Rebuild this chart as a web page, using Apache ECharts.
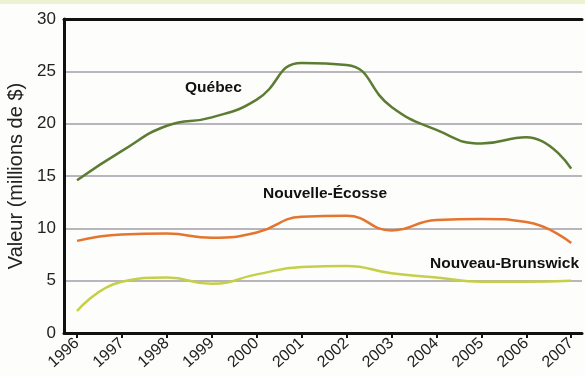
<!DOCTYPE html>
<html><head><meta charset="utf-8">
<script src="https://cdn.jsdelivr.net/npm/echarts@6/dist/echarts.min.js"></script>
<style>html,body{margin:0;padding:0;background:#fdfdfb}#c{width:585px;height:376px}</style>
</head><body><div id="c"></div>
<script>
const years = [1996,1997,1998,1999,2000,2001,2002,2003,2004,2005,2006,2007];
const quebec = [14.6,17.4,19.8,20.6,22.3,25.8,25.6,21.6,19.4,18.1,18.7,15.7];
const nouvelleEcosse = [8.8,9.4,9.5,9.1,9.6,11.1,11.2,9.8,10.8,10.9,10.6,8.6];
const nouveauBrunswick = [2.1,4.9,5.3,4.7,5.6,6.3,6.4,5.7,5.3,4.9,4.9,5.0];
const yTicks = [0,5,10,15,20,25,30];
const seriesNames = ['Québec','Nouvelle-Écosse','Nouveau-Brunswick'];

const pair = arr => years.map((y,i)=>[y,arr[i]]);
const chart = echarts.init(document.getElementById('c'));
const font = 'Liberation Sans, Arial, sans-serif';
chart.setOption({
  backgroundColor:'#fdfdfb',
  animation:false,
  grid:{left:64,top:19,right:3,bottom:43,outerBoundsMode:'none',containLabel:false},
  xAxis:[{
    type:'value', min:1995.71, max:2007.24,
    axisLine:{show:true,lineStyle:{color:'#111',width:3}},
    axisTick:{show:true,customValues:years,length:5,lineStyle:{color:'#111',width:2}},
    axisLabel:{customValues:years,rotate:42,fontSize:16,color:'#222',fontFamily:font,margin:8,formatter:v=>String(v)},
    splitLine:{show:false}
  },{
    type:'value', position:'top', min:1995.71, max:2007.24,
    axisLine:{show:true,lineStyle:{color:'#111',width:3}},
    axisTick:{show:false},axisLabel:{show:false},splitLine:{show:false}
  }],
  yAxis:{
    type:'value',min:0,max:30,interval:5,
    axisLine:{show:true,lineStyle:{color:'#111',width:3}},
    axisTick:{show:false},
    axisLabel:{fontSize:17,color:'#222',fontFamily:font,margin:8,customValues:yTicks},
    splitLine:{lineStyle:{color:'#b8b5bc',width:2}},
    name:'Valeur (millions de $)',nameLocation:'middle',nameGap:37,
    nameTextStyle:{fontSize:20,color:'#222',fontFamily:font}
  },
  series:[
    {name:seriesNames[0],type:'line',smooth:0.5,symbol:'none',data:pair(quebec),lineStyle:{color:'#5c7c34',width:2.5}},
    {name:seriesNames[1],type:'line',smooth:0.5,symbol:'none',data:pair(nouvelleEcosse),lineStyle:{color:'#e5742f',width:2.5}},
    {name:seriesNames[2],type:'line',smooth:0.5,symbol:'none',data:pair(nouveauBrunswick),lineStyle:{color:'#c5cf48',width:2.5}}
  ],
  graphic:[
    {type:'rect',left:0,top:0,shape:{width:585,height:4},style:{fill:'#eef2d2'},silent:true},
    {type:'text',left:185,top:80,style:{text:seriesNames[0],font:'bold 15.5px '+font,fill:'#111'}},
    {type:'text',left:263,top:186,style:{text:seriesNames[1],font:'bold 15.5px '+font,fill:'#111'}},
    {type:'text',left:430,top:256,style:{text:seriesNames[2],font:'bold 15.5px '+font,fill:'#111'}}
  ]
});
</script></body></html>
